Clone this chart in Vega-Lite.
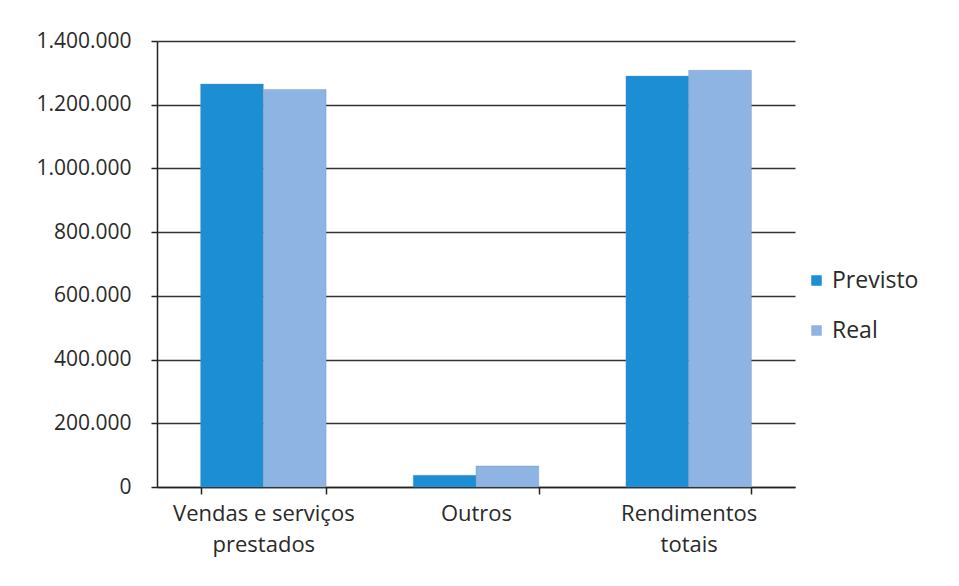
{
  "$schema": "https://vega.github.io/schema/vega-lite/v6.json",
  "width": 638,
  "height": 446,
  "autosize": "none",
  "padding": {"left": 157, "top": 41, "right": 164, "bottom": 99},
  "background": "white",
  "data": {
    "values": [
      {"categoria": "Vendas e serviços prestados", "serie": "Previsto", "valor": 1265000},
      {"categoria": "Vendas e serviços prestados", "serie": "Real", "valor": 1248000},
      {"categoria": "Outros", "serie": "Previsto", "valor": 37000},
      {"categoria": "Outros", "serie": "Real", "valor": 66000},
      {"categoria": "Rendimentos totais", "serie": "Previsto", "valor": 1290000},
      {"categoria": "Rendimentos totais", "serie": "Real", "valor": 1308000}
    ]
  },
  "mark": {"type": "bar", "stroke": "#6a8fb0", "strokeWidth": 0.6, "strokeOpacity": 0.6},
  "encoding": {
    "x": {
      "field": "categoria",
      "type": "nominal",
      "sort": ["Vendas e serviços prestados", "Outros", "Rendimentos totais"],
      "scale": {"paddingInner": 0.41, "paddingOuter": 0.205},
      "axis": {
        "title": null,
        "labelAngle": 0,
        "tickBand": "extent",
        "domainColor": "#222",
        "domainWidth": 1.5,
        "tickColor": "#222",
        "tickWidth": 1.5,
        "tickSize": 7,
        "labelPadding": 9,
        "labelLimit": 400,
        "labelFont": "Open Sans",
        "labelFontSize": 22,
        "labelColor": "#2a2a2a",
        "labelLineHeight": 31,
        "labelBaseline": "top",
        "labelExpr": "datum.value == 'Vendas e serviços prestados' ? ['Vendas e serviços', 'prestados'] : datum.value == 'Rendimentos totais' ? ['Rendimentos', 'totais'] : datum.value"
      }
    },
    "xOffset": {"field": "serie", "sort": ["Previsto", "Real"]},
    "y": {
      "field": "valor",
      "type": "quantitative",
      "scale": {"domain": [0, 1400000], "nice": false},
      "axis": {
        "title": null,
        "values": [0, 200000, 400000, 600000, 800000, 1000000, 1200000, 1400000],
        "labelExpr": "replace(format(datum.value, ','), regexp(',', 'g'), '.')",
        "grid": true,
        "gridColor": "#333",
        "gridWidth": 1.3,
        "domainColor": "#222",
        "domainWidth": 1.5,
        "tickColor": "#222",
        "tickWidth": 1.5,
        "tickSize": 6,
        "labelPadding": 20,
        "labelFont": "Open Sans",
        "labelFontSize": 21,
        "labelColor": "#2a2a2a"
      }
    },
    "color": {
      "field": "serie",
      "type": "nominal",
      "sort": ["Previsto", "Real"],
      "scale": {"domain": ["Previsto", "Real"], "range": ["#1c8fd4", "#8db4e2"]},
      "legend": {
        "title": null,
        "orient": "none",
        "legendX": 648,
        "legendY": 228,
        "symbolType": "square",
        "symbolSize": 110,
        "symbolStrokeWidth": 0,
        "rowPadding": 26,
        "labelFont": "Open Sans",
        "labelFontSize": 23,
        "labelColor": "#2a2a2a",
        "labelOffset": 4
      }
    }
  },
  "config": {"view": {"stroke": null}}
}
